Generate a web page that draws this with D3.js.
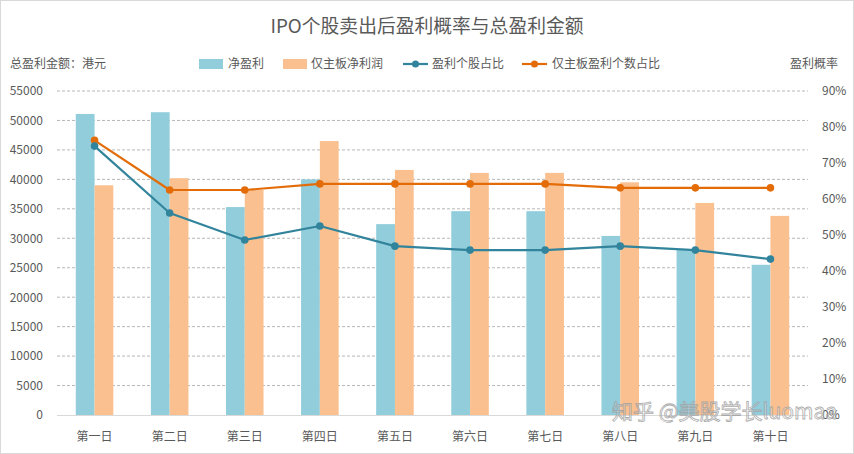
<!DOCTYPE html>
<html><head><meta charset="utf-8">
<script src="https://cdn.jsdelivr.net/npm/d3@7"></script>
<style>
html,body{margin:0;padding:0;background:#fff;}
svg{display:block;font-family:"Noto Sans CJK SC","Noto Sans",sans-serif;}
</style></head>
<body><svg id="c" width="854" height="454"></svg>
<script>
const categories = ["第一日","第二日","第三日","第四日","第五日","第六日","第七日","第八日","第九日","第十日"];
const netProfit = [51100, 51400, 35300, 40000, 32400, 34600, 34600, 30400, 28000, 25500];
const mainBoardProfit = [39000, 40200, 38200, 46500, 41600, 41100, 41100, 39500, 36000, 33800];
const profitRatio = [0.747, 0.561, 0.486, 0.525, 0.469, 0.458, 0.458, 0.469, 0.458, 0.433];
const mainBoardRatio = [0.763, 0.625, 0.625, 0.642, 0.642, 0.642, 0.642, 0.631, 0.631, 0.631];
const leftTicks = [0,5000,10000,15000,20000,25000,30000,35000,40000,45000,50000,55000];
const rightTicks = [0,0.1,0.2,0.3,0.4,0.5,0.6,0.7,0.8,0.9];
const seriesNames = ["净盈利","仅主板净利润","盈利个股占比","仅主板盈利个数占比"];

(function(){
const svg = d3.select("#c");
const W = 854, H = 454;
const pL = 57, pR = 808, pT = 91, pB = 415;
const txt = "#595959";
const cBlue = "#92CDDC", cOrange = "#FAC090", lBlue = "#31849B", lOrange = "#E36C09";
const ff = "'Noto Sans CJK SC',sans-serif";

svg.append("rect").attr("x",0.5).attr("y",0.5).attr("width",W-1).attr("height",H-1)
  .attr("fill","#fff").attr("stroke","#d9d9d9");

const x = d3.scaleBand().domain(categories).range([pL,pR]).padding(0);
const bw = x.bandwidth();
const xs = d3.scaleBand().domain(["a","b"]).range([bw*0.25, bw*0.75]).padding(0);
const yL = d3.scaleLinear().domain([0,55000]).range([pB,pT]);
const yR = d3.scaleLinear().domain([0,0.9]).range([pB,pT]);

// gridlines
svg.append("g").selectAll("line").data(leftTicks.filter(d=>d>0)).join("line")
  .attr("x1",pL).attr("x2",pR).attr("y1",d=>yL(d)).attr("y2",d=>yL(d))
  .attr("stroke","#a6a6a6").attr("stroke-width",0.8).attr("stroke-dasharray","3,2");

// left axis
const ax = d3.axisLeft(yL).tickValues(leftTicks).tickSize(0).tickPadding(0).tickFormat(d=>d);
const gL = svg.append("g").attr("transform",`translate(43,0)`).call(ax);
gL.select(".domain").remove();
gL.selectAll("text").attr("fill",txt).attr("font-size",12).attr("font-family",ff);

// right axis
const axR = d3.axisRight(yR).tickValues(rightTicks).tickSize(0).tickPadding(0).tickFormat(d3.format(".0%"));
const gR = svg.append("g").attr("transform",`translate(822,0)`).call(axR);
gR.select(".domain").remove();
gR.selectAll("text").attr("fill",txt).attr("font-size",12).attr("font-family",ff);

// bars
const bars = svg.append("g");
bars.selectAll("rect.a").data(categories).join("rect").attr("class","a")
  .attr("x",(d)=>x(d)+xs("a")).attr("width",xs.bandwidth())
  .attr("y",(d,i)=>yL(netProfit[i])).attr("height",(d,i)=>yL(0)-yL(netProfit[i]))
  .attr("fill",cBlue);
bars.selectAll("rect.b").data(categories).join("rect").attr("class","b")
  .attr("x",(d)=>x(d)+xs("b")).attr("width",xs.bandwidth())
  .attr("y",(d,i)=>yL(mainBoardProfit[i])).attr("height",(d,i)=>yL(0)-yL(mainBoardProfit[i]))
  .attr("fill",cOrange);

// baseline
svg.append("line").attr("x1",pL).attr("x2",pR).attr("y1",pB+0.5).attr("y2",pB+0.5)
  .attr("stroke","#d9d9d9").attr("stroke-width",1);

// x labels
const xa = d3.axisBottom(x).tickSize(0).tickPadding(0);
const gX = svg.append("g").attr("transform",`translate(0,${pB+17})`).call(xa);
gX.select(".domain").remove();
gX.selectAll("text").attr("fill",txt).attr("font-size",12).attr("dy","0.71em").attr("font-family",ff);

// lines
const cx = d => x(d)+bw/2;
function drawLine(vals,color){
  const line = d3.line().x((d,i)=>cx(categories[i])).y(d=>yR(d));
  svg.append("path").datum(vals).attr("d",line).attr("fill","none")
    .attr("stroke",color).attr("stroke-width",2.2).attr("stroke-linejoin","round");
  svg.append("g").selectAll("circle").data(vals).join("circle")
    .attr("cx",(d,i)=>cx(categories[i])).attr("cy",d=>yR(d)).attr("r",3.8).attr("fill",color);
}
drawLine(mainBoardRatio,lOrange);
drawLine(profitRatio,lBlue);

// title
svg.append("text").attr("x",427).attr("y",33).attr("text-anchor","middle")
  .attr("font-size",18.8).attr("fill",txt).text("IPO个股卖出后盈利概率与总盈利金额");

// axis titles
svg.append("text").attr("x",10).attr("y",68).attr("font-size",12).attr("fill",txt).text("总盈利金额：港元");
svg.append("text").attr("x",838).attr("y",68).attr("text-anchor","end").attr("font-size",12).attr("fill",txt).text("盈利概率");

// legend
const lg = svg.append("g");
const ly = 64;
lg.append("rect").attr("x",199).attr("y",ly-5).attr("width",24).attr("height",10).attr("fill",cBlue);
lg.append("text").attr("x",228).attr("y",ly+4).attr("font-size",12).attr("fill",txt).text(seriesNames[0]);
lg.append("rect").attr("x",283).attr("y",ly-5).attr("width",24).attr("height",10).attr("fill",cOrange);
lg.append("text").attr("x",311).attr("y",ly+4).attr("font-size",12).attr("fill",txt).text(seriesNames[1]);
lg.append("line").attr("x1",403).attr("x2",428).attr("y1",ly).attr("y2",ly).attr("stroke",lBlue).attr("stroke-width",2.2);
lg.append("circle").attr("cx",415.5).attr("cy",ly).attr("r",3.5).attr("fill",lBlue);
lg.append("text").attr("x",432).attr("y",ly+4).attr("font-size",12).attr("fill",txt).text(seriesNames[2]);
lg.append("line").attr("x1",522).attr("x2",547).attr("y1",ly).attr("y2",ly).attr("stroke",lOrange).attr("stroke-width",2.2);
lg.append("circle").attr("cx",534.5).attr("cy",ly).attr("r",3.5).attr("fill",lOrange);
lg.append("text").attr("x",552).attr("y",ly+4).attr("font-size",12).attr("fill",txt).text(seriesNames[3]);

// watermark
svg.append("text").attr("x",612).attr("y",419).attr("font-size",21)
  .attr("fill","#ffffff").attr("fill-opacity",0.35).attr("stroke","#a0a0a0").attr("stroke-width",0.8).attr("opacity",0.85)
  .text("知乎 @美股学长luomaa");
})();
</script></body></html>
